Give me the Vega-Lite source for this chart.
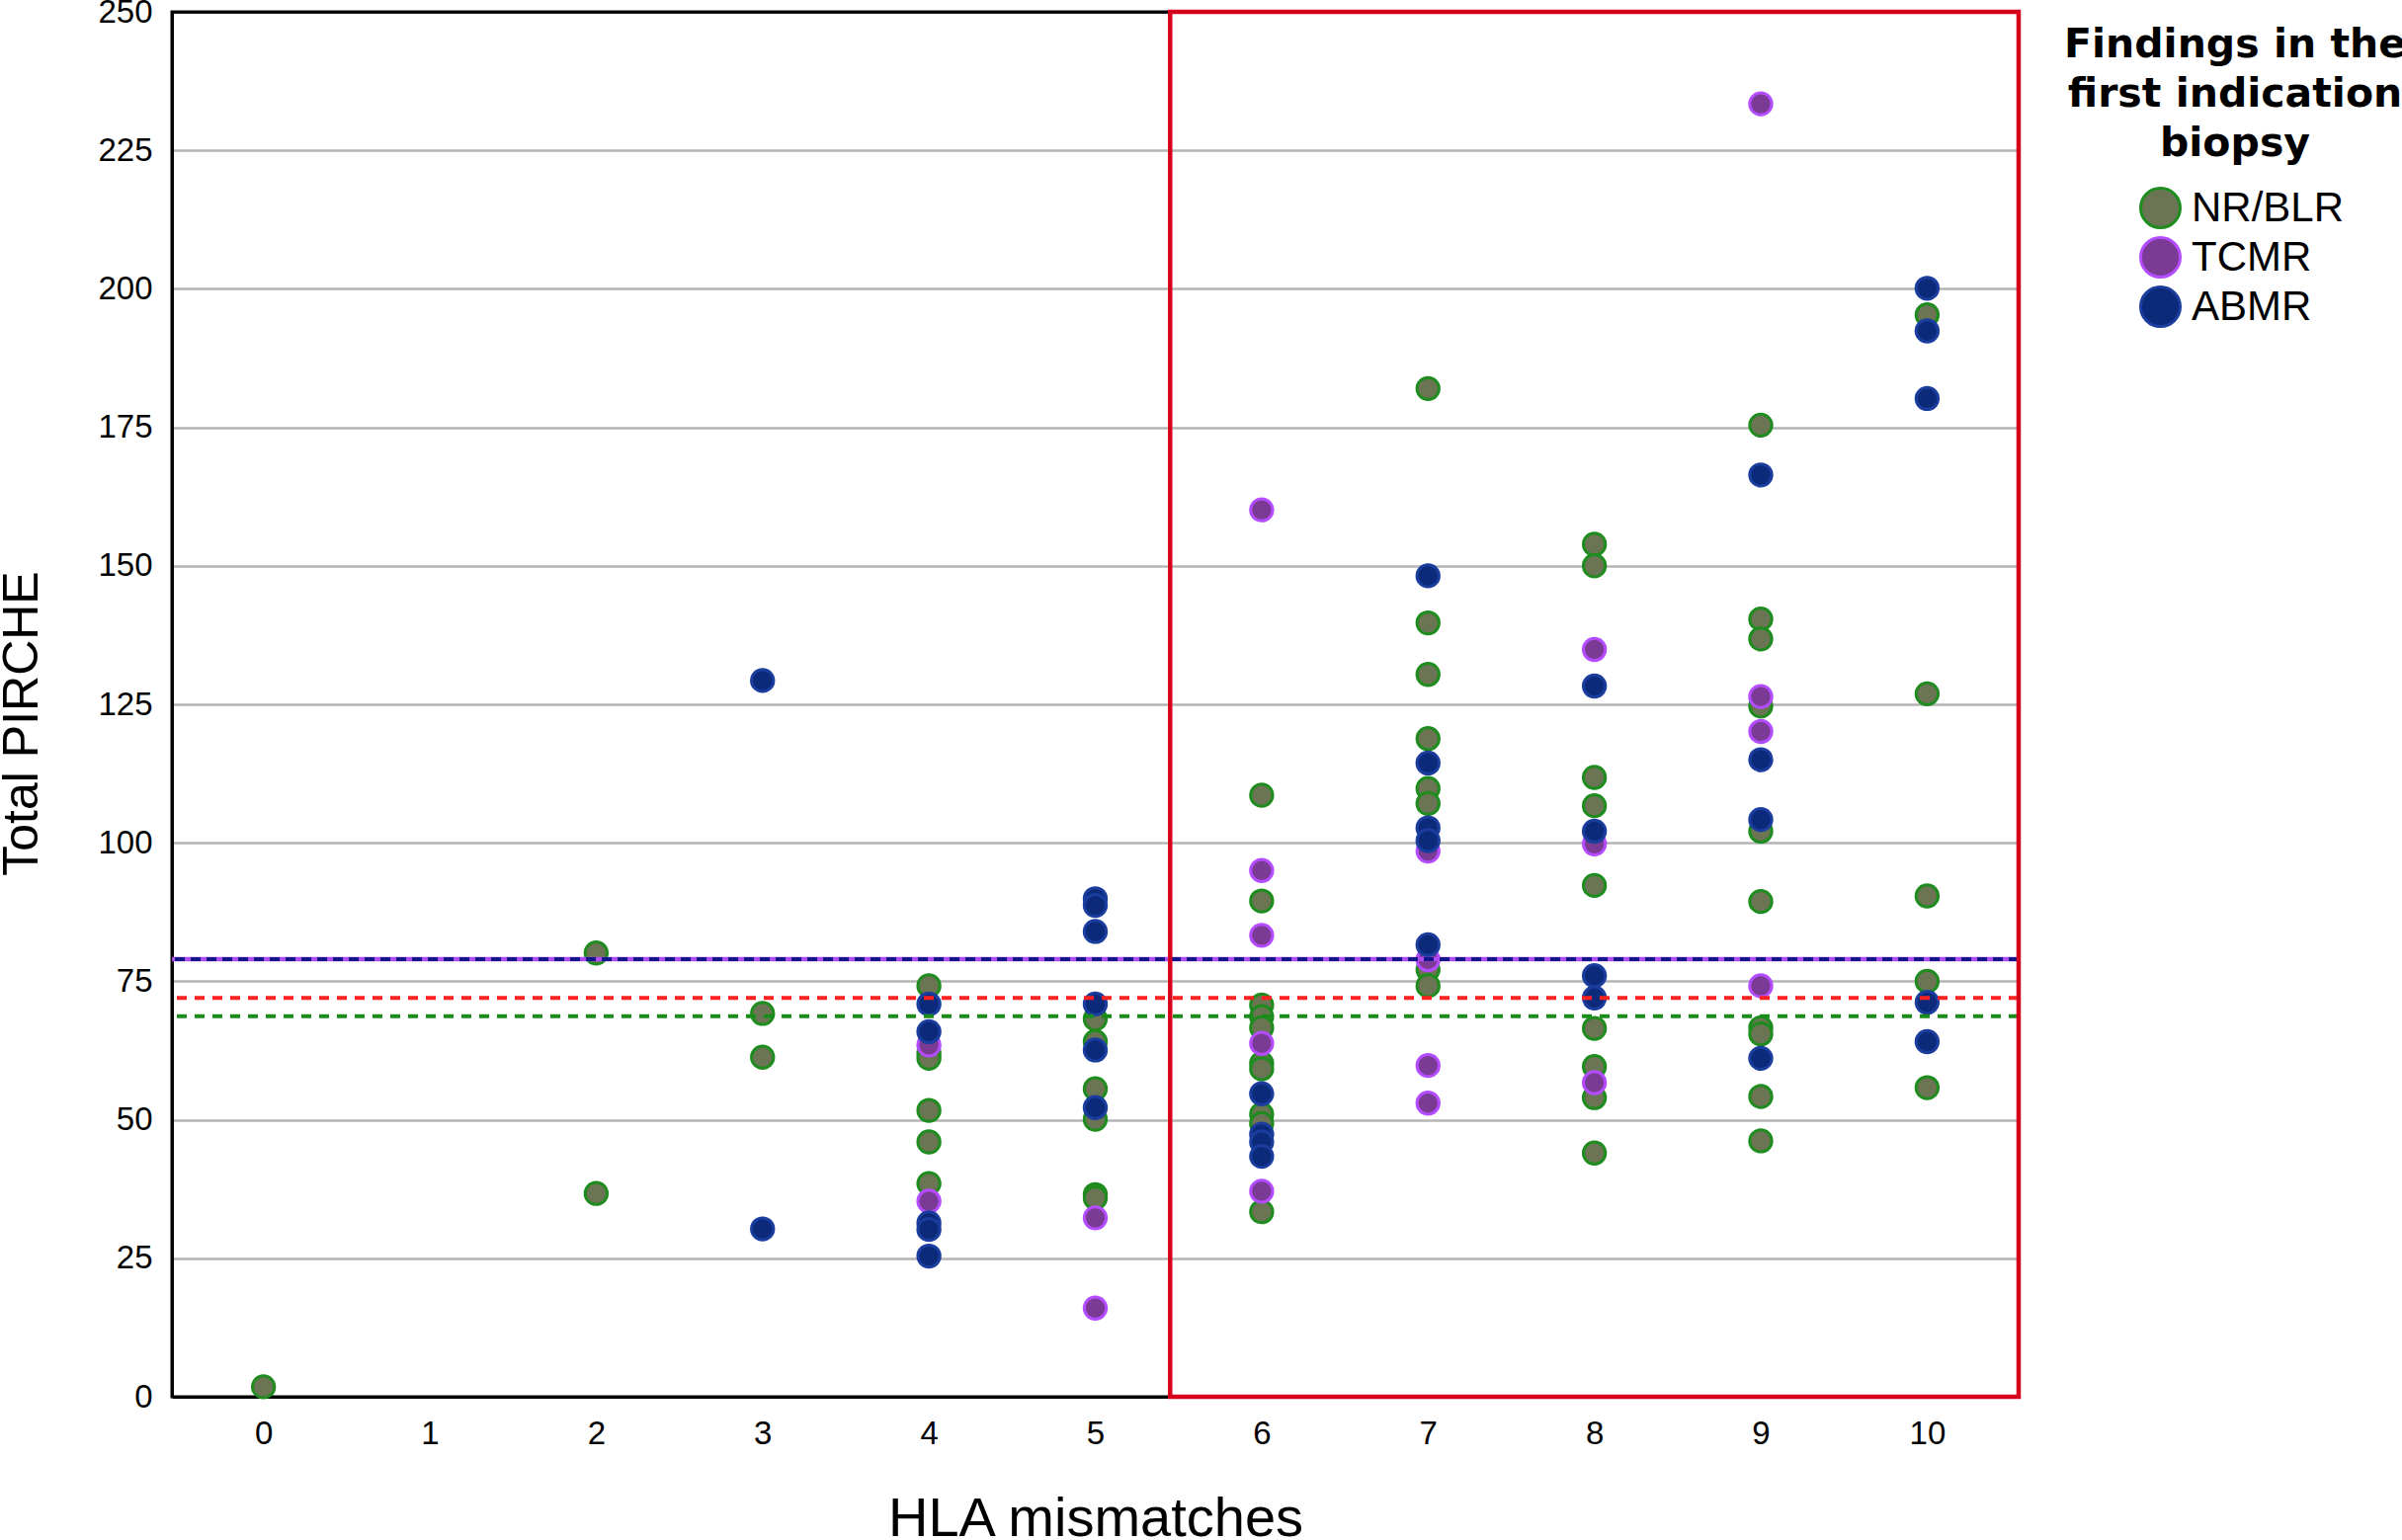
{
  "$schema": "https://vega.github.io/schema/vega-lite/v6.json",
  "width": 1869,
  "height": 1402,
  "autosize": {"type": "none"},
  "padding": {"left": 174, "top": 12, "right": 388, "bottom": 145},
  "background": "white",
  "config": {
    "view": {"stroke": "black", "strokeWidth": 3},
    "font": "Liberation Sans",
    "axis": {
      "ticks": false,
      "labelFont": "Liberation Sans Narrow, Liberation Sans",
      "labelFontSize": 33,
      "labelColor": "black",
      "titleColor": "black",
      "titleFontWeight": "normal",
      "domainColor": "black",
      "domainWidth": 3
    },
    "axisX": {"grid": false, "labelPadding": 21, "titleFontSize": 56, "titlePadding": 42},
    "axisY": {"grid": true, "gridWidth": 2.5, "labelPadding": 20, "titleFontSize": 50, "titlePadding": 51},
    "legend": {
      "orient": "none",
      "legendX": 1915,
      "legendY": 14,
      "titleFont": "DejaVu Sans",
      "titleFontSize": 41,
      "titleFontWeight": "bold",
      "titleLineHeight": 50,
      "titleAlign": "center",
      "titleAnchor": "middle",
      "titleLimit": 1000,
      "titlePadding": 22,
      "titleColor": "black",
      "labelFontSize": 42,
      "labelLimit": 1000,
      "labelColor": "black",
      "symbolSize": 1600,
      "symbolStrokeWidth": 3,
      "symbolType": "circle",
      "clipHeight": 43,
      "rowPadding": 7,
      "symbolOffset": 14,
      "labelOffset": 10
    }
  },
  "datasets": {
    "points": [
      {"mismatches": 0, "pirche": 1.8, "finding": "NR/BLR"},
      {"mismatches": 2, "pirche": 80.1, "finding": "NR/BLR"},
      {"mismatches": 2, "pirche": 36.7, "finding": "NR/BLR"},
      {"mismatches": 3, "pirche": 69.2, "finding": "NR/BLR"},
      {"mismatches": 3, "pirche": 61.3, "finding": "NR/BLR"},
      {"mismatches": 4, "pirche": 74.2, "finding": "NR/BLR"},
      {"mismatches": 4, "pirche": 62.0, "finding": "NR/BLR"},
      {"mismatches": 4, "pirche": 61.1, "finding": "NR/BLR"},
      {"mismatches": 4, "pirche": 51.7, "finding": "NR/BLR"},
      {"mismatches": 4, "pirche": 46.0, "finding": "NR/BLR"},
      {"mismatches": 4, "pirche": 38.5, "finding": "NR/BLR"},
      {"mismatches": 5, "pirche": 68.2, "finding": "NR/BLR"},
      {"mismatches": 5, "pirche": 64.1, "finding": "NR/BLR"},
      {"mismatches": 5, "pirche": 55.6, "finding": "NR/BLR"},
      {"mismatches": 5, "pirche": 50.1, "finding": "NR/BLR"},
      {"mismatches": 5, "pirche": 36.5, "finding": "NR/BLR"},
      {"mismatches": 5, "pirche": 35.9, "finding": "NR/BLR"},
      {"mismatches": 6, "pirche": 108.6, "finding": "NR/BLR"},
      {"mismatches": 6, "pirche": 89.5, "finding": "NR/BLR"},
      {"mismatches": 6, "pirche": 70.7, "finding": "NR/BLR"},
      {"mismatches": 6, "pirche": 68.6, "finding": "NR/BLR"},
      {"mismatches": 6, "pirche": 66.6, "finding": "NR/BLR"},
      {"mismatches": 6, "pirche": 60.2, "finding": "NR/BLR"},
      {"mismatches": 6, "pirche": 59.2, "finding": "NR/BLR"},
      {"mismatches": 6, "pirche": 51.0, "finding": "NR/BLR"},
      {"mismatches": 6, "pirche": 49.3, "finding": "NR/BLR"},
      {"mismatches": 6, "pirche": 33.4, "finding": "NR/BLR"},
      {"mismatches": 7, "pirche": 182.0, "finding": "NR/BLR"},
      {"mismatches": 7, "pirche": 139.7, "finding": "NR/BLR"},
      {"mismatches": 7, "pirche": 130.4, "finding": "NR/BLR"},
      {"mismatches": 7, "pirche": 118.8, "finding": "NR/BLR"},
      {"mismatches": 7, "pirche": 109.8, "finding": "NR/BLR"},
      {"mismatches": 7, "pirche": 107.1, "finding": "NR/BLR"},
      {"mismatches": 7, "pirche": 77.1, "finding": "NR/BLR"},
      {"mismatches": 7, "pirche": 74.2, "finding": "NR/BLR"},
      {"mismatches": 8, "pirche": 153.9, "finding": "NR/BLR"},
      {"mismatches": 8, "pirche": 150.0, "finding": "NR/BLR"},
      {"mismatches": 8, "pirche": 111.8, "finding": "NR/BLR"},
      {"mismatches": 8, "pirche": 106.7, "finding": "NR/BLR"},
      {"mismatches": 8, "pirche": 92.3, "finding": "NR/BLR"},
      {"mismatches": 8, "pirche": 66.5, "finding": "NR/BLR"},
      {"mismatches": 8, "pirche": 59.6, "finding": "NR/BLR"},
      {"mismatches": 8, "pirche": 54.0, "finding": "NR/BLR"},
      {"mismatches": 8, "pirche": 44.0, "finding": "NR/BLR"},
      {"mismatches": 9, "pirche": 175.4, "finding": "NR/BLR"},
      {"mismatches": 9, "pirche": 140.4, "finding": "NR/BLR"},
      {"mismatches": 9, "pirche": 136.8, "finding": "NR/BLR"},
      {"mismatches": 9, "pirche": 124.7, "finding": "NR/BLR"},
      {"mismatches": 9, "pirche": 102.1, "finding": "NR/BLR"},
      {"mismatches": 9, "pirche": 89.4, "finding": "NR/BLR"},
      {"mismatches": 9, "pirche": 66.6, "finding": "NR/BLR"},
      {"mismatches": 9, "pirche": 65.5, "finding": "NR/BLR"},
      {"mismatches": 9, "pirche": 54.2, "finding": "NR/BLR"},
      {"mismatches": 9, "pirche": 46.2, "finding": "NR/BLR"},
      {"mismatches": 10, "pirche": 195.3, "finding": "NR/BLR"},
      {"mismatches": 10, "pirche": 126.9, "finding": "NR/BLR"},
      {"mismatches": 10, "pirche": 90.4, "finding": "NR/BLR"},
      {"mismatches": 10, "pirche": 75.0, "finding": "NR/BLR"},
      {"mismatches": 10, "pirche": 55.8, "finding": "NR/BLR"},
      {"mismatches": 4, "pirche": 63.5, "finding": "TCMR"},
      {"mismatches": 4, "pirche": 35.3, "finding": "TCMR"},
      {"mismatches": 5, "pirche": 32.3, "finding": "TCMR"},
      {"mismatches": 5, "pirche": 16.0, "finding": "TCMR"},
      {"mismatches": 6, "pirche": 160.1, "finding": "TCMR"},
      {"mismatches": 6, "pirche": 95.0, "finding": "TCMR"},
      {"mismatches": 6, "pirche": 83.3, "finding": "TCMR"},
      {"mismatches": 6, "pirche": 63.8, "finding": "TCMR"},
      {"mismatches": 6, "pirche": 37.1, "finding": "TCMR"},
      {"mismatches": 7, "pirche": 98.5, "finding": "TCMR"},
      {"mismatches": 7, "pirche": 78.9, "finding": "TCMR"},
      {"mismatches": 7, "pirche": 59.8, "finding": "TCMR"},
      {"mismatches": 7, "pirche": 53.0, "finding": "TCMR"},
      {"mismatches": 8, "pirche": 134.9, "finding": "TCMR"},
      {"mismatches": 8, "pirche": 99.8, "finding": "TCMR"},
      {"mismatches": 8, "pirche": 56.7, "finding": "TCMR"},
      {"mismatches": 9, "pirche": 233.4, "finding": "TCMR"},
      {"mismatches": 9, "pirche": 126.4, "finding": "TCMR"},
      {"mismatches": 9, "pirche": 120.1, "finding": "TCMR"},
      {"mismatches": 9, "pirche": 74.2, "finding": "TCMR"},
      {"mismatches": 3, "pirche": 129.3, "finding": "ABMR"},
      {"mismatches": 3, "pirche": 30.3, "finding": "ABMR"},
      {"mismatches": 4, "pirche": 70.9, "finding": "ABMR"},
      {"mismatches": 4, "pirche": 65.9, "finding": "ABMR"},
      {"mismatches": 4, "pirche": 31.4, "finding": "ABMR"},
      {"mismatches": 4, "pirche": 30.2, "finding": "ABMR"},
      {"mismatches": 4, "pirche": 25.4, "finding": "ABMR"},
      {"mismatches": 5, "pirche": 89.9, "finding": "ABMR"},
      {"mismatches": 5, "pirche": 88.7, "finding": "ABMR"},
      {"mismatches": 5, "pirche": 84.0, "finding": "ABMR"},
      {"mismatches": 5, "pirche": 70.9, "finding": "ABMR"},
      {"mismatches": 5, "pirche": 62.6, "finding": "ABMR"},
      {"mismatches": 5, "pirche": 52.2, "finding": "ABMR"},
      {"mismatches": 6, "pirche": 54.7, "finding": "ABMR"},
      {"mismatches": 6, "pirche": 47.4, "finding": "ABMR"},
      {"mismatches": 6, "pirche": 46.0, "finding": "ABMR"},
      {"mismatches": 6, "pirche": 43.4, "finding": "ABMR"},
      {"mismatches": 7, "pirche": 148.2, "finding": "ABMR"},
      {"mismatches": 7, "pirche": 114.4, "finding": "ABMR"},
      {"mismatches": 7, "pirche": 102.7, "finding": "ABMR"},
      {"mismatches": 7, "pirche": 100.4, "finding": "ABMR"},
      {"mismatches": 7, "pirche": 81.6, "finding": "ABMR"},
      {"mismatches": 8, "pirche": 128.3, "finding": "ABMR"},
      {"mismatches": 8, "pirche": 102.1, "finding": "ABMR"},
      {"mismatches": 8, "pirche": 76.0, "finding": "ABMR"},
      {"mismatches": 8, "pirche": 72.0, "finding": "ABMR"},
      {"mismatches": 9, "pirche": 166.4, "finding": "ABMR"},
      {"mismatches": 9, "pirche": 115.0, "finding": "ABMR"},
      {"mismatches": 9, "pirche": 104.2, "finding": "ABMR"},
      {"mismatches": 9, "pirche": 61.1, "finding": "ABMR"},
      {"mismatches": 10, "pirche": 200.1, "finding": "ABMR"},
      {"mismatches": 10, "pirche": 192.4, "finding": "ABMR"},
      {"mismatches": 10, "pirche": 180.2, "finding": "ABMR"},
      {"mismatches": 10, "pirche": 71.2, "finding": "ABMR"},
      {"mismatches": 10, "pirche": 64.1, "finding": "ABMR"}
    ],
    "means": [
      {"group": "TCMR", "mean": 79.0},
      {"group": "ABMR", "mean": 79.0},
      {"group": "All", "mean": 72.0},
      {"group": "NR/BLR", "mean": 68.7}
    ],
    "highlight": [
      {"from": 5.45, "to": 10.55}
    ]
  },
  "layer": [
    {
      "data": {"name": "points"},
      "mark": {"type": "point", "shape": "circle", "filled": true, "size": 500, "strokeWidth": 3, "opacity": 1},
      "encoding": {
        "x": {
          "field": "mismatches",
          "type": "quantitative",
          "title": "HLA mismatches",
          "scale": {"domain": [-0.55, 10.55], "nice": false, "zero": false},
          "axis": {"values": [0, 1, 2, 3, 4, 5, 6, 7, 8, 9, 10], "format": "d"}
        },
        "y": {
          "field": "pirche",
          "type": "quantitative",
          "title": "Total PIRCHE",
          "scale": {"domain": [0, 250], "nice": false},
          "axis": {
            "values": [0, 25, 50, 75, 100, 125, 150, 175, 200, 225, 250],
            "titleY": 720,
            "gridColor": {"condition": {"test": "datum.value === 250", "value": "black"}, "value": "#b5b5b5"}
          }
        },
        "fill": {
          "field": "finding",
          "type": "nominal",
          "title": ["Findings in the", "first indication", "biopsy"],
          "scale": {"domain": ["NR/BLR", "TCMR", "ABMR"], "range": ["#6b7553", "#7b3a94", "#0b2a7a"]}
        },
        "stroke": {
          "field": "finding",
          "type": "nominal",
          "title": ["Findings in the", "first indication", "biopsy"],
          "scale": {"domain": ["NR/BLR", "TCMR", "ABMR"], "range": ["#1e8c1e", "#b44cff", "#1b3d9e"]}
        }
      }
    },
    {
      "data": {"name": "means"},
      "transform": [{"filter": "datum.group === 'TCMR'"}],
      "mark": {"type": "rule", "color": "#b04cf0", "strokeWidth": 4.5},
      "encoding": {"y": {"field": "mean", "type": "quantitative", "title": "Total PIRCHE"}}
    },
    {
      "data": {"name": "means"},
      "transform": [{"filter": "datum.group === 'ABMR'"}],
      "mark": {"type": "rule", "color": "#14168c", "strokeWidth": 4, "strokeDash": [10, 6]},
      "encoding": {"y": {"field": "mean", "type": "quantitative", "title": "Total PIRCHE"}}
    },
    {
      "data": {"name": "means"},
      "transform": [{"filter": "datum.group === 'All'"}],
      "mark": {"type": "rule", "color": "#ff2020", "strokeWidth": 4, "strokeDash": [10, 8]},
      "encoding": {"y": {"field": "mean", "type": "quantitative", "title": "Total PIRCHE"}}
    },
    {
      "data": {"name": "means"},
      "transform": [{"filter": "datum.group === 'NR/BLR'"}],
      "mark": {"type": "rule", "color": "#1a8c1a", "strokeWidth": 4, "strokeDash": [10, 8]},
      "encoding": {"y": {"field": "mean", "type": "quantitative", "title": "Total PIRCHE"}}
    },
    {
      "data": {"name": "highlight"},
      "mark": {"type": "rect", "filled": false, "fill": null, "stroke": "#d6001c", "strokeWidth": 4.5},
      "encoding": {
        "x": {"field": "from", "type": "quantitative", "title": "HLA mismatches"},
        "x2": {"field": "to"},
        "y": {"datum": 0},
        "y2": {"datum": 250}
      }
    }
  ]
}
